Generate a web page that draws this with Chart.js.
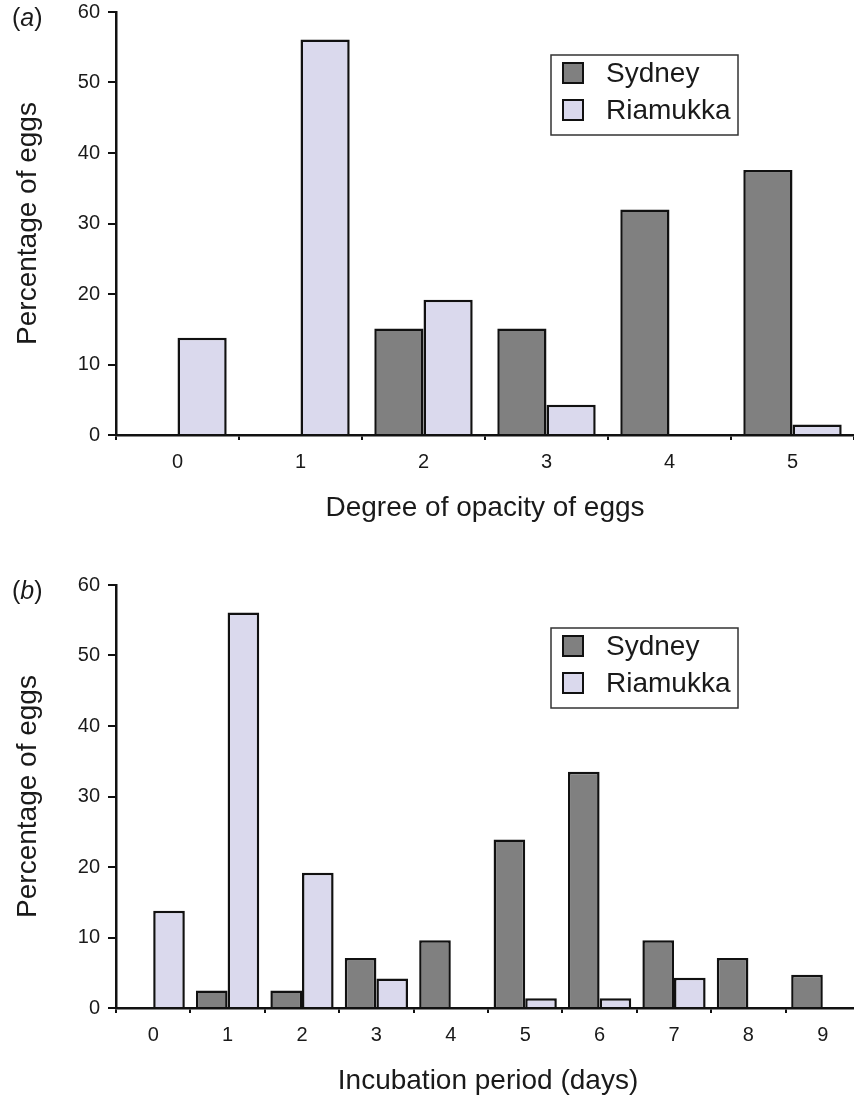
<!DOCTYPE html>
<html>
<head>
<meta charset="utf-8">
<title>Egg opacity and incubation period</title>
<script src="https://cdn.jsdelivr.net/npm/chart.js@4.4.1/dist/chart.umd.min.js"></script>
<style>
  html, body { margin: 0; padding: 0; background: #fff; overflow: hidden; }
  .panel { position: absolute; left: 0; }
</style>
</head>
<body>
<div class="panel" style="top:0"><canvas id="chart-a" width="854" height="540"></canvas></div>
<div class="panel" style="top:573px"><canvas id="chart-b" width="860" height="540"></canvas></div>
<script>
const seriesNames = ['Sydney', 'Riamukka'];
const seriesColors = ['#808080', '#dad9ed'];
const yTicks = [0, 10, 20, 30, 40, 50, 60];

// (a) degree of opacity
const opacityLabels = ['0', '1', '2', '3', '4', '5'];
const opacitySydney = [0, 0, 15.1, 15.1, 32.0, 37.6];
const opacityRiamukka = [13.8, 56.1, 19.2, 4.3, 0, 1.5];

// (b) incubation period
const incubationLabels = ['0', '1', '2', '3', '4', '5', '6', '7', '8', '9'];
const incubationSydney = [0, 2.5, 2.5, 7.1, 9.6, 23.9, 33.5, 9.6, 7.1, 4.7];
const incubationRiamukka = [13.8, 56.1, 19.2, 4.2, 0, 1.4, 1.4, 4.3, 0, 0];

const FONT = '"Liberation Sans", Arial, Helvetica, sans-serif';
const INK = '#1a1a1a';
Chart.defaults.font.family = FONT;
Chart.defaults.color = INK;

// legend box inside the plot + the (a)/(b) tag
const panelDecor = {
  id: 'panelDecor',
  afterDraw(chart, args, opts) {
    const ctx = chart.ctx;
    const area = chart.chartArea;
    const bx = area.left + 435, by = area.top + 43, bw = 187, bh = 80;
    ctx.save();
    ctx.fillStyle = '#fff';
    ctx.fillRect(bx, by, bw, bh);
    ctx.strokeStyle = '#333';
    ctx.lineWidth = 1.5;
    ctx.strokeRect(bx, by, bw, bh);
    ctx.font = '28px ' + FONT;
    ctx.textBaseline = 'middle';
    chart.data.datasets.forEach((ds, i) => {
      const cy = by + 18 + i * 37;
      ctx.fillStyle = ds.backgroundColor;
      ctx.fillRect(bx + 12, cy - 10, 20, 20);
      ctx.strokeStyle = '#111';
      ctx.lineWidth = 2;
      ctx.strokeRect(bx + 12, cy - 10, 20, 20);
      ctx.fillStyle = INK;
      ctx.fillText(ds.label, bx + 55, cy + 1);
    });

    // panel tag, letter in italics
    let x = 12;
    const ty = area.top + 7;
    ctx.fillStyle = INK;
    ctx.font = '25px ' + FONT;
    ctx.fillText('(', x, ty);
    x += ctx.measureText('(').width;
    ctx.font = 'italic 25px ' + FONT;
    ctx.fillText(opts.tag, x, ty);
    x += ctx.measureText(opts.tag).width;
    ctx.font = '25px ' + FONT;
    ctx.fillText(')', x, ty);
    ctx.restore();
  }
};

function makeChart(id, tag, labels, sydney, riamukka, xTitle, catPct) {
  return new Chart(document.getElementById(id), {
    type: 'bar',
    data: {
      labels: labels,
      datasets: [
        { label: seriesNames[0], data: sydney, backgroundColor: seriesColors[0] },
        { label: seriesNames[1], data: riamukka, backgroundColor: seriesColors[1] }
      ]
    },
    options: {
      responsive: false,
      animation: false,
      events: [],
      layout: { padding: { top: 12, right: 0, bottom: 0, left: 0 } },
      datasets: {
        bar: {
          categoryPercentage: catPct,
          barPercentage: 1,
          borderColor: '#111',
          borderWidth: 2.5
        }
      },
      plugins: {
        legend: { display: false },
        tooltip: { enabled: false },
        panelDecor: { tag: tag }
      },
      scales: {
        x: {
          grid: { offset: true, drawOnChartArea: false, drawTicks: true, tickLength: 5, color: '#111', lineWidth: 2 },
          border: { color: '#111', width: 2.5 },
          ticks: { color: INK, font: { size: 20 }, padding: 10 },
          title: { display: true, text: xTitle, color: INK, font: { size: 28 }, padding: { top: 0, bottom: 15 } },
          afterFit: (s) => { s.height = 105; s.paddingLeft = 0; s.paddingRight = 0; }
        },
        y: {
          min: 0,
          max: 60,
          afterBuildTicks: (s) => { s.ticks = yTicks.map(v => ({ value: v })); },
          grid: { drawOnChartArea: false, drawTicks: true, tickLength: 8, color: '#111', lineWidth: 2 },
          border: { color: '#111', width: 2.5 },
          ticks: { color: INK, font: { size: 20 }, padding: 8 },
          title: { display: true, text: 'Percentage of eggs', color: INK, font: { size: 28 }, padding: { top: 11, bottom: 0 } },
          afterFit: (s) => { s.width = 116; s.paddingTop = 0; s.paddingBottom = 0; }
        }
      }
    },
    plugins: [panelDecor]
  });
}

makeChart('chart-a', 'a', opacityLabels, opacitySydney, opacityRiamukka, 'Degree of opacity of eggs', 0.8);
makeChart('chart-b', 'b', incubationLabels, incubationSydney, incubationRiamukka, 'Incubation period (days)', 0.85);
</script>
</body>
</html>
